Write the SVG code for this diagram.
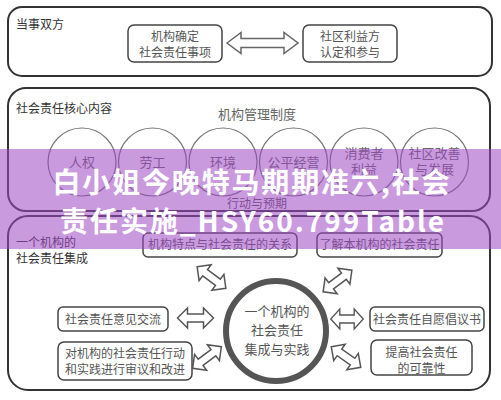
<svg xmlns="http://www.w3.org/2000/svg" xmlns:xlink="http://www.w3.org/1999/xlink" width="501" height="400" viewBox="0 0 501 400">
<style>
text{font-family:"Noto Sans CJK SC","Noto Sans",sans-serif;}
.panel{fill:#fff;stroke:#333;stroke-width:2;}
.box{fill:#fff;stroke:#444;stroke-width:1.5;}
.ttl{font-size:12px;fill:#333;}
.bt{font-size:12px;fill:#555;text-anchor:middle;}
.ct{font-size:13px;fill:#666;text-anchor:middle;}
.ring{fill:none;stroke:#777;stroke-width:1.2;}
.arr{fill:#fff;stroke:#555;stroke-width:1.5;stroke-linejoin:miter;}
.ban{font-size:28px;font-weight:bold;fill:#fff;text-anchor:middle;}
</style>
<defs>
<path id="dblS" d="M-18,0 L-8,-10 L-8,-4 L8,-4 L8,-10 L18,0 L8,10 L8,4 L-8,4 L-8,10 Z"/>
<path id="dblL" d="M-35.5,0 L-21.5,-10.5 L-21.5,-4.5 L21.5,-4.5 L21.5,-10.5 L35.5,0 L21.5,10.5 L21.5,4.5 L-21.5,4.5 L-21.5,10.5 Z"/>
</defs>
<rect width="501" height="400" fill="#fff"/>

<g id="panel-parties">
<rect class="panel" x="8" y="7" width="484" height="69" rx="14"/>
<text class="ttl" x="16" y="29">当事双方</text>
</g>
<g id="panel-core">
<rect class="panel" x="8" y="88" width="482" height="123" rx="18"/>
<text class="ttl" x="16" y="113">社会责任核心内容</text>
<text class="ct" x="257" y="119">机构管理制度</text>
<text class="bt" x="257" y="208">行动与预期</text>
</g>
<g id="panel-integration">
<rect class="panel" x="8" y="216" width="482" height="174" rx="20"/>
<text class="ttl" x="16" y="247">一个机构的</text>
<text class="ttl" x="16" y="263">社会责任集成</text>
</g>

<g id="node-org-define">
<rect class="box" x="128" y="25" width="94" height="37" rx="6"/>
<text class="bt" x="175" y="41">机构确定</text>
<text class="bt" x="175" y="57">社会责任事项</text>
</g>
<g id="node-community">
<rect class="box" x="303" y="25" width="94" height="37" rx="6"/>
<text class="bt" x="350" y="41">社区利益方</text>
<text class="bt" x="350" y="57">认定和参与</text>
</g>

<g id="node-human-rights"><circle class="ring" cx="82" cy="162" r="34"/><text class="ct" x="82" y="166.5">人权</text></g>
<g id="node-labour"><circle class="ring" cx="152.5" cy="162" r="34"/><text class="ct" x="152.5" y="166.5">劳工</text></g>
<g id="node-environment"><circle class="ring" cx="223" cy="162" r="34"/><text class="ct" x="223" y="166.5">环境</text></g>
<g id="node-fair"><circle class="ring" cx="293.5" cy="162" r="34"/><text class="ct" x="293.5" y="166.5">公平经营</text></g>
<g id="node-consumer"><circle class="ring" cx="364" cy="162" r="34"/><text class="ct" x="364" y="157.5">消费者</text><text class="ct" x="364" y="173.5">利益</text></g>
<g id="node-community-dev"><circle class="ring" cx="434.5" cy="162" r="34"/><text class="ct" x="434.5" y="157.5">社区改善</text><text class="ct" x="434.5" y="173.5">与发展</text></g>

<g id="node-center">
<circle cx="276" cy="331" r="50" fill="#fff" stroke="#555" stroke-width="6"/>
<text class="ct" x="277" y="315.5" style="fill:#555">一个机构的</text>
<text class="ct" x="277" y="334.5" style="fill:#555">社会责任</text>
<text class="ct" x="277" y="353.5" style="fill:#555">集成与实践</text>
</g>
<g id="node-features">
<rect class="box" x="143" y="233" width="154" height="24" rx="5"/>
<text class="bt" x="220" y="249">机构特点与社会责任的关系</text>
</g>
<g id="node-understand">
<rect class="box" x="317" y="233" width="125" height="24" rx="5"/>
<text class="bt" x="379.5" y="249">了解本机构的社会责任</text>
</g>
<g id="node-exchange">
<rect class="box" x="58" y="307" width="110" height="24" rx="5"/>
<text class="bt" x="113" y="323.5">社会责任意见交流</text>
</g>
<g id="node-initiative">
<rect class="box" x="370" y="307" width="114" height="24" rx="5"/>
<text class="bt" x="427" y="323.5">社会责任自愿倡议书</text>
</g>
<g id="node-review">
<rect class="box" x="58" y="342" width="134" height="38" rx="6"/>
<text class="bt" x="125" y="357.5">对机构的社会责任行动</text>
<text class="bt" x="125" y="374">和实践进行审议和改进</text>
</g>
<g id="node-credibility">
<rect class="box" x="371" y="340" width="101" height="35" rx="6"/>
<text class="bt" x="421.5" y="357">提高社会责任</text>
<text class="bt" x="421.5" y="373">的可靠性</text>
</g>

<g id="connectors">
<use xlink:href="#dblL" class="arr" style="stroke:#666" transform="translate(262.5,43)"/>
<use xlink:href="#dblS" class="arr" transform="translate(211.5,277.5) rotate(37)"/>
<use xlink:href="#dblS" class="arr" transform="translate(337.5,281) rotate(-37)"/>
<use xlink:href="#dblS" class="arr" transform="translate(195.5,318)"/>
<use xlink:href="#dblS" class="arr" transform="translate(347,319) scale(0.9,1)"/>
<use xlink:href="#dblS" class="arr" transform="translate(207,357.5) rotate(-37)"/>
<use xlink:href="#dblS" class="arr" transform="translate(346,357) rotate(35)"/>
</g>

<g id="banner">
<rect x="0" y="149" width="501" height="100" fill="#9f47c5" fill-opacity="0.55"/>
<text class="ban" x="251" y="193" textLength="397" lengthAdjust="spacing">白小姐今晚特马期期准六,社会</text>
<text class="ban" x="252" y="232" textLength="384" lengthAdjust="spacing">责任实施_HSY60.799Table</text>
</g>
</svg>
